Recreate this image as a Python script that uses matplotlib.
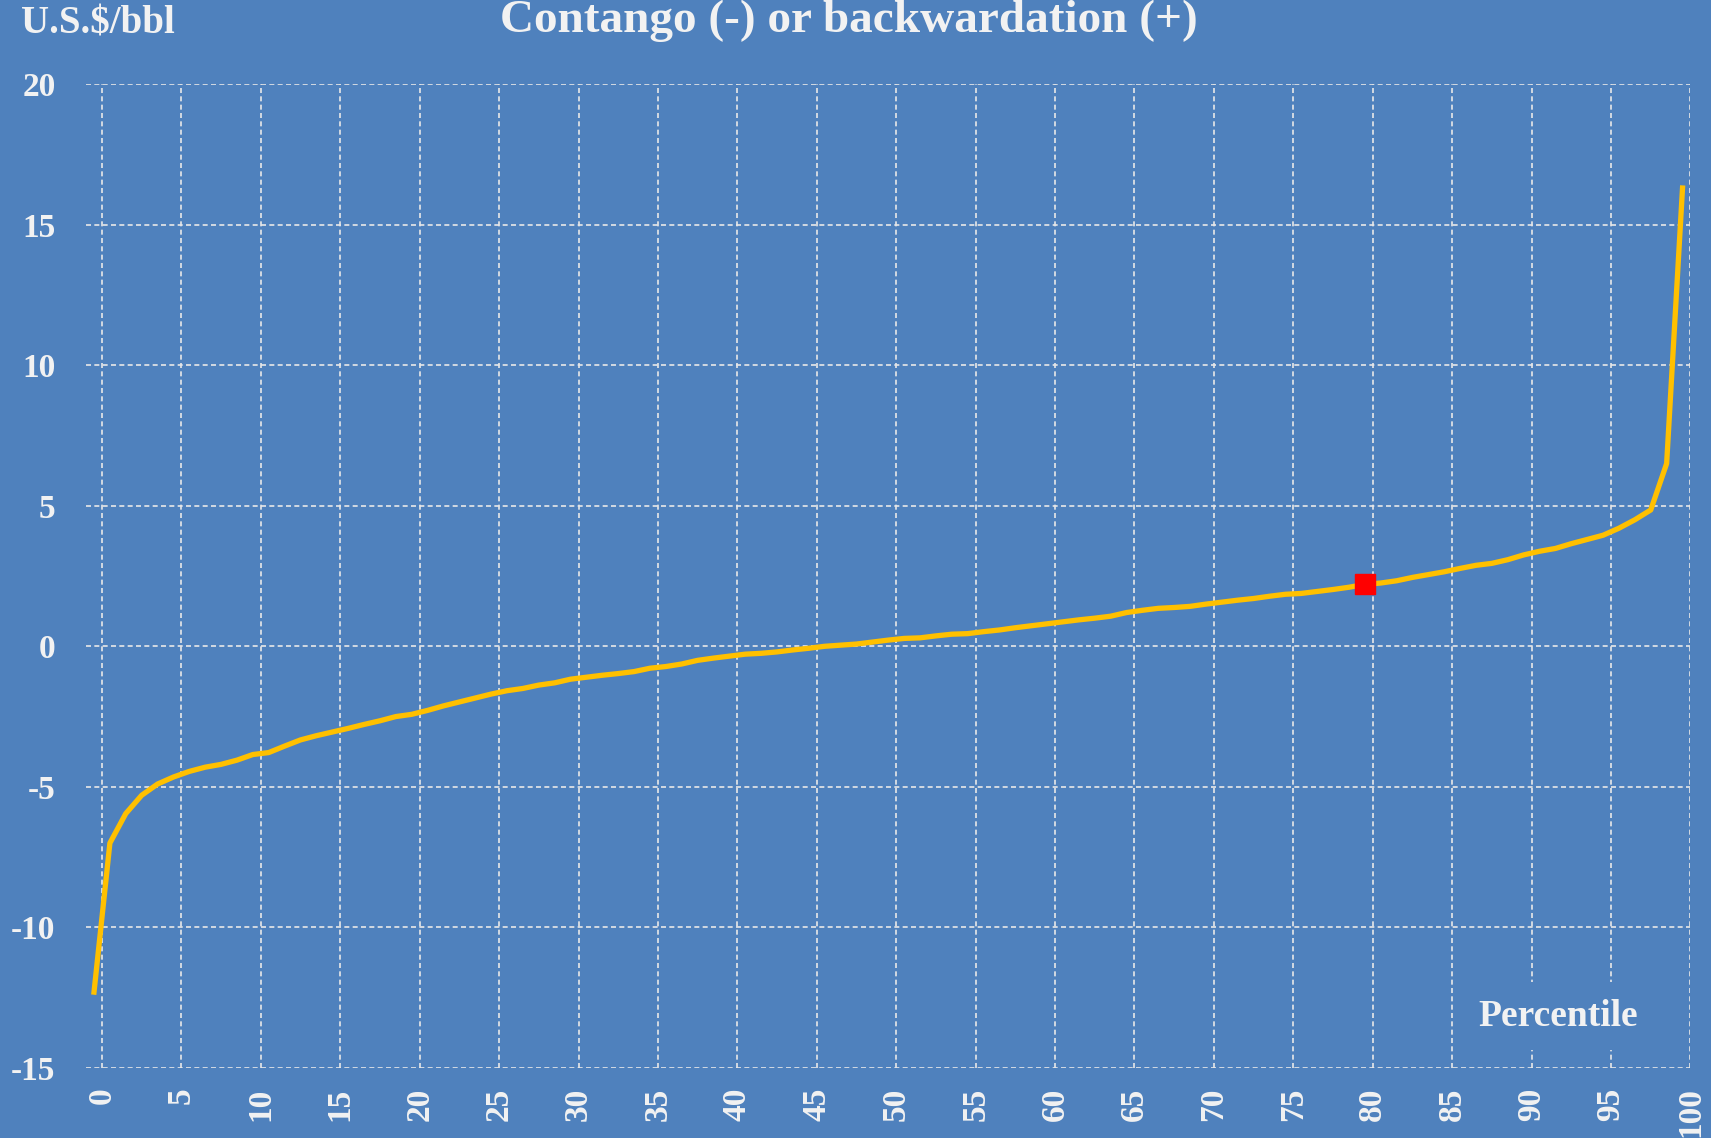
import matplotlib
matplotlib.use("Agg")
import matplotlib.pyplot as plt
import numpy as np

# percentile curve, values (U.S.$/bbl), one per percentile
percentile = np.arange(0, 101) - 0.5
spread = [-12.3, -7.0, -5.95, -5.3, -4.9, -4.65, -4.45, -4.3, -4.2, -4.05,
          -3.85, -3.78, -3.55, -3.33, -3.18, -3.05, -2.92, -2.78, -2.65, -2.5,
          -2.42, -2.28, -2.12, -1.98, -1.84, -1.7, -1.58, -1.5, -1.38, -1.3,
          -1.17, -1.1, -1.03, -0.97, -0.9, -0.78, -0.72, -0.63, -0.5, -0.42,
          -0.35, -0.28, -0.25, -0.2, -0.13, -0.07, 0.0, 0.04, 0.08, 0.15,
          0.22, 0.28, 0.3, 0.37, 0.43, 0.45, 0.52, 0.58, 0.66, 0.73,
          0.8, 0.87, 0.94, 1.0, 1.07, 1.2, 1.28, 1.35, 1.38, 1.42,
          1.5, 1.57, 1.64, 1.7, 1.78, 1.85, 1.88, 1.95, 2.02, 2.1,
          2.2, 2.25, 2.33, 2.45, 2.55, 2.65, 2.77, 2.88, 2.95, 3.08,
          3.25, 3.38, 3.48, 3.65, 3.8, 3.95, 4.2, 4.5, 4.85, 6.5,
          16.3]
current_pct = [79.5]
current_val = [2.2]
xticks = list(range(0, 101, 5))
yticks = list(range(-15, 21, 5))

bg = '#4f81bd'
txt = '#f2f2f2'
plt.rcParams['font.family'] = ['Liberation Serif', 'DejaVu Serif']

fig = plt.figure(figsize=(17.11, 11.38), dpi=100, facecolor=bg)
ax = fig.add_axes([0.0503, 0.0615, 0.9377, 0.8647])
ax.set_facecolor(bg)

ax.plot(percentile, spread, color='#ffc000', lw=3.8, zorder=3)
ax.plot(current_pct, current_val, 's', color='#ff0000', ms=15, zorder=4)

ax.set_xlim(-1, 100)
ax.set_ylim(-15, 20)
ax.set_xticks(xticks)
ax.set_yticks(yticks)
ax.set_xticklabels([str(t) for t in xticks], rotation=90, fontweight='bold')
ax.set_yticklabels([str(t) for t in yticks], fontweight='bold')
ax.tick_params(axis='both', length=0, colors=txt, labelsize=24)
ax.tick_params(axis='x', pad=14)
ax.tick_params(axis='y', pad=22)
for s in ax.spines.values():
    s.set_visible(False)
ax.grid(True, color='#e8e8e8', lw=1.2, ls=(0, (3, 2)), zorder=1)

fig.text(0.012, 0.979, 'U.S.$/bbl', color=txt, fontsize=28, fontweight='bold', va='center', ha='left')
fig.text(0.496, 0.982, 'Contango (-) or backwardation (+)', color=txt, fontsize=34,
         fontweight='bold', va='center', ha='center')
ax.text(91.7, -13.15, 'Percentile', color=txt, fontsize=27, fontweight='bold',
        ha='center', va='center',
        bbox=dict(facecolor=bg, edgecolor='none', pad=12), zorder=5)

fig.savefig('out.png', dpi=100, facecolor=bg)
